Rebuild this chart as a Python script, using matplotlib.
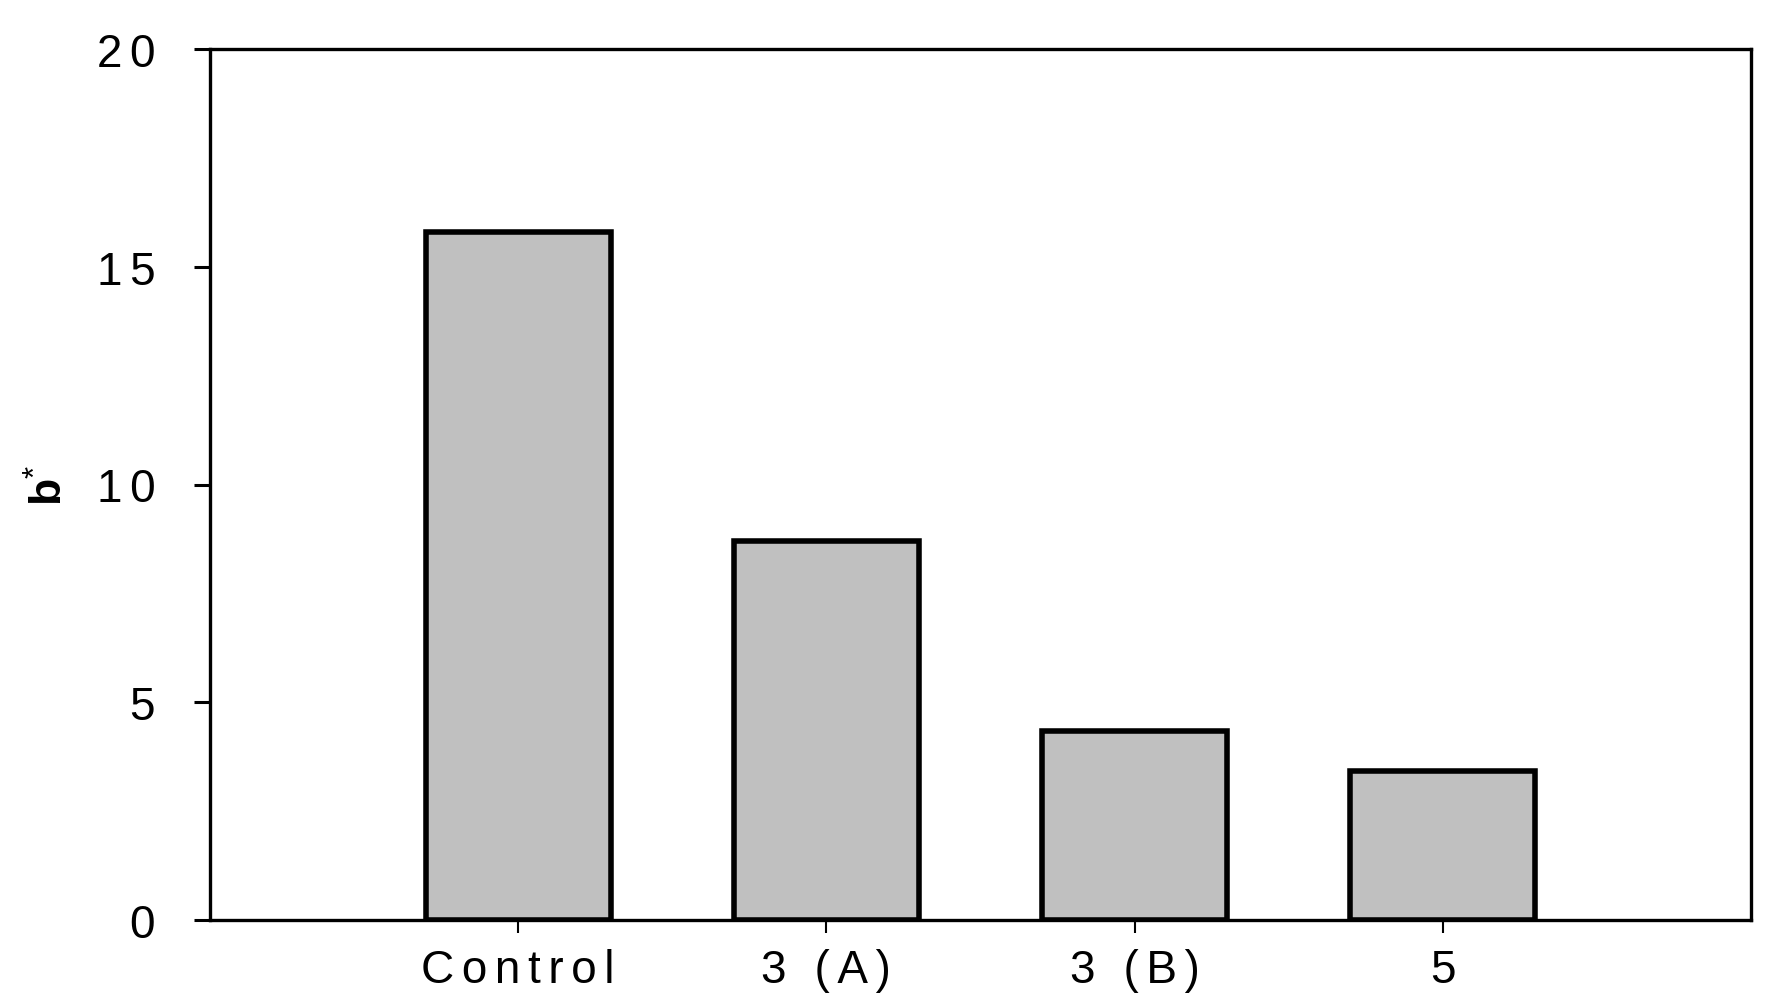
import matplotlib
matplotlib.use("Agg")
import matplotlib.pyplot as plt

categories = ["Control", "3 (A)", "3 (B)", "5"]
values = [15.79, 8.70, 4.34, 3.42]
yticks = [0, 5, 10, 15, 20]

plt.rcParams['font.family'] = ['Liberation Sans', 'DejaVu Sans']
plt.rcParams['mathtext.fontset'] = 'custom'
plt.rcParams['mathtext.rm'] = 'Liberation Sans'
plt.rcParams['mathtext.bf'] = 'Liberation Sans:bold'

SP = '\u2006'
def spaced(s):
    return SP.join(list(s))

fig = plt.figure(figsize=(17.82, 10.03), dpi=100)
ax = fig.add_axes([210/1782, 1-921/1003, (1751-210)/1782, (921-50)/1003])

x = list(range(1, len(categories) + 1))
ax.bar(x, values, width=0.6, color='#c0c0c0', edgecolor='black', linewidth=4.0, zorder=2)

ax.set_xlim(0, 5)
ax.set_ylim(0, 20)
ax.set_xticks(x)
ax.set_xticklabels([spaced(c) for c in categories], fontsize=33)
ax.set_yticks(yticks)
ax.set_yticklabels([spaced(str(t)) for t in yticks], fontsize=33)

for s in ax.spines.values():
    s.set_linewidth(2.4)
ax.tick_params(axis='y', direction='out', length=11.5, width=2.2, pad=28)
ax.tick_params(axis='x', direction='out', length=9, width=1.5, pad=11)

ax.set_ylabel(r'$\mathbf{b}^{*}$', fontsize=32, labelpad=18)

fig.savefig("out.png", dpi=100)
